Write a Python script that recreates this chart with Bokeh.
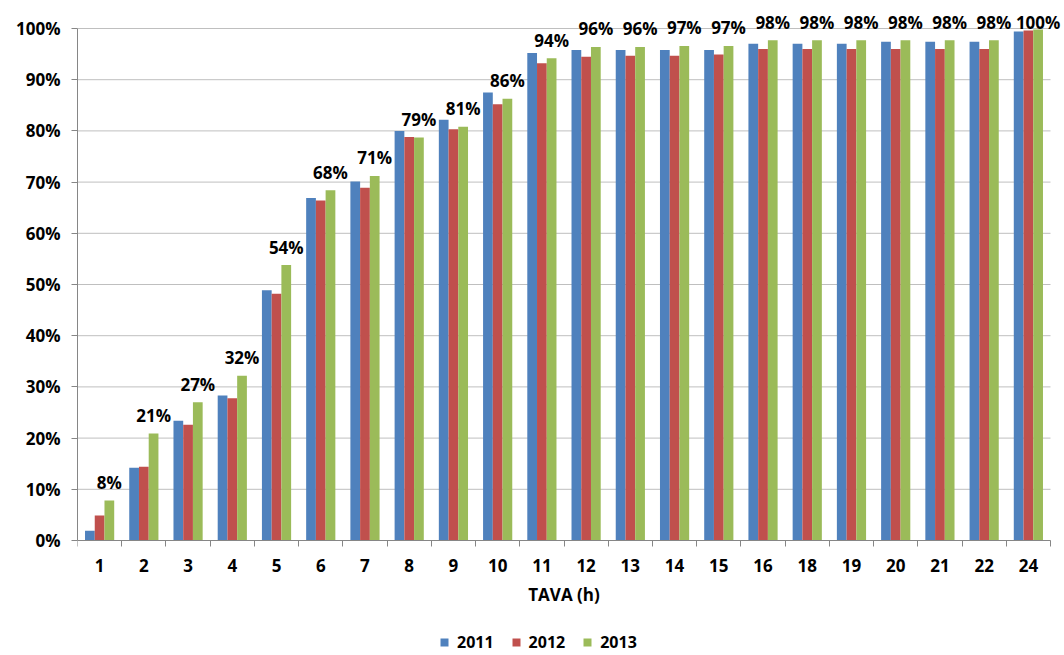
import numpy as np
from bokeh.plotting import figure
from bokeh.models import Range1d, FixedTicker, PrintfTickFormatter, CustomJSTickFormatter, ColumnDataSource
from bokeh.core.properties import value
from bokeh.embed import file_html
from bokeh.resources import INLINE

categories = ["1", "2", "3", "4", "5", "6", "7", "8", "9", "10", "11",
              "12", "13", "14", "15", "16", "18", "19", "20", "21", "22", "24"]
s2011 = [1.9, 14.2, 23.4, 28.3, 48.9, 66.9, 70.1, 80.0, 82.2, 87.5, 95.2,
         95.8, 95.8, 95.8, 95.8, 97.0, 97.0, 97.0, 97.4, 97.4, 97.4, 99.4]
s2012 = [4.9, 14.4, 22.6, 27.8, 48.2, 66.4, 68.9, 78.8, 80.3, 85.2, 93.2,
         94.5, 94.7, 94.7, 94.9, 96.0, 96.0, 96.0, 96.0, 96.0, 96.0, 99.6]
s2013 = [7.8, 20.9, 27.0, 32.2, 53.8, 68.4, 71.2, 78.7, 80.8, 86.3, 94.2,
         96.4, 96.4, 96.6, 96.6, 97.7, 97.7, 97.7, 97.7, 97.7, 97.7, 99.8]
labels2013 = ["8%", "21%", "27%", "32%", "54%", "68%", "71%", "79%", "81%", "86%", "94%",
              "96%", "96%", "97%", "97%", "98%", "98%", "98%", "98%", "98%", "98%", "100%"]
series_names = ["2011", "2012", "2013"]
colors = ["#4F81BD", "#C0504D", "#9BBB59"]
y_ticks = [0, 10, 20, 30, 40, 50, 60, 70, 80, 90, 100]
x_title = "TAVA (h)"

FONT = "Open Sans"
W, H = 1064, 655
n = len(categories)
centers = np.arange(n) + 0.5
bounds = np.arange(n + 1).astype(float)

# pixel layout of the plotting area
left_px, axis_right_px = 77, 1050
top_frame_px, y100_px, y0_px = 8, 28, 540
ppu_y = (y0_px - y100_px) / 100.0
y_start = -(H - y0_px) / ppu_y
y_end = 100 + (y100_px - top_frame_px) / ppu_y
x_end = n * (W - left_px) / (axis_right_px - left_px)

p = figure(width=W, height=H, output_backend="svg", toolbar_location=None,
           x_range=Range1d(0, x_end), y_range=Range1d(y_start, y_end),
           min_border_left=left_px, min_border_right=0, min_border_top=top_frame_px,
           min_border_bottom=0)
p.outline_line_color = None
p.background_fill_color = "white"
p.border_fill_color = "white"
p.xgrid.grid_line_color = None
p.ygrid.grid_line_color = None

# horizontal gridlines spanning only the category area
p.segment(x0=0, x1=n, y0=y_ticks, y1=y_ticks, line_color="#BFBFBF", line_width=1)

bw = 0.22
offsets = [-bw, 0.0, bw]
for vals, name, col, off in zip([s2011, s2012, s2013], series_names, colors, offsets):
    src = ColumnDataSource(dict(x=centers + off, top=vals))
    p.vbar(x="x", top="top", bottom=0, width=bw, source=src, fill_color=col,
           line_color=None, legend_label=name)

# data labels sit above the 2013 bars, kept inside the chart area (Excel-style)
label_y = np.minimum(np.array(s2013), 97.7)
lab_src = ColumnDataSource(dict(x=centers + offsets[2], y=label_y, text=labels2013))
p.text(x="x", y="y", text="text", source=lab_src, text_align="center",
       text_baseline="alphabetic", y_offset=-18, text_font=value(FONT),
       text_font_style="bold", text_font_size="17px", text_color="black")

# y axis
ya = p.yaxis[0]
ya.ticker = FixedTicker(ticks=y_ticks)
ya.formatter = PrintfTickFormatter(format="%d%%")
ya.bounds = (0, 100)
ya.axis_line_color = "#868686"
ya.major_tick_line_color = "#868686"
ya.major_tick_out = 6
ya.major_tick_in = 0
ya.minor_tick_line_color = None
ya.major_label_standoff = 11
ya.major_label_text_font = FONT
ya.major_label_text_font_style = "bold"
ya.major_label_text_font_size = "17px"
ya.major_label_text_color = "black"

# x axis, fixed at y = 0 inside the frame
xa = p.xaxis[0]
xa.fixed_location = 0
xa.bounds = (0, n)
xa.ticker = FixedTicker(ticks=list(centers), minor_ticks=list(bounds))
xa.formatter = CustomJSTickFormatter(args=dict(labels=categories),
                                     code="return labels[Math.floor(tick)];")
xa.axis_line_color = "#868686"
xa.major_tick_line_color = None
xa.major_tick_out = 0
xa.major_tick_in = 0
xa.minor_tick_line_color = "#868686"
xa.minor_tick_out = 6
xa.minor_tick_in = 0
xa.major_label_standoff = 12
xa.major_label_text_font = FONT
xa.major_label_text_font_style = "bold"
xa.major_label_text_font_size = "17px"
xa.major_label_text_color = "black"
xa.axis_label = x_title
xa.axis_label_text_font = FONT
xa.axis_label_text_font_style = "bold"
xa.axis_label_text_font_size = "17px"
xa.axis_label_text_color = "black"
xa.axis_label_standoff = 8

lg = p.legend[0]
lg.orientation = "horizontal"
lg.location = (362, 2)
lg.glyph_width = 10
lg.glyph_height = 10
lg.label_standoff = 8
lg.spacing = 17
lg.padding = 0
lg.margin = 0
lg.label_height = 16
lg.border_line_color = None
lg.background_fill_alpha = 0
lg.label_text_font = FONT
lg.label_text_font_style = "bold"
lg.label_text_font_size = "16px"
lg.label_text_color = "black"

open("out.html", "w").write(file_html(p, INLINE))
